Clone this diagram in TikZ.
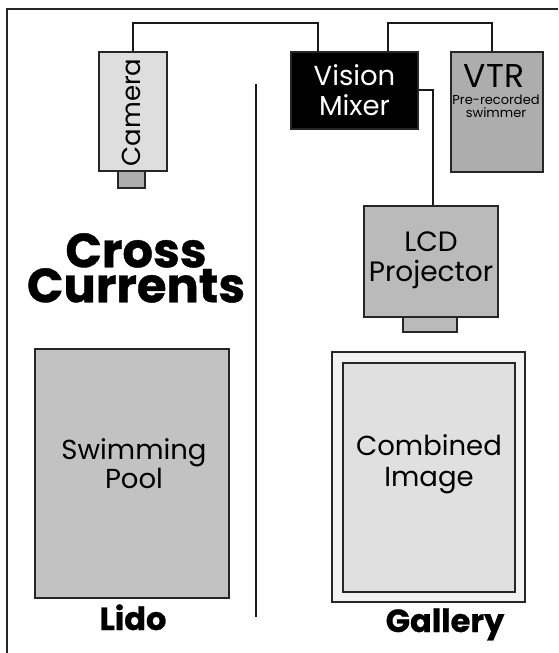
\documentclass[tikz,border=0pt]{standalone}
\usepackage{fontspec}
\setmainfont{Poppins}
\newfontfamily\heavyfont[BoldFeatures={FakeBold=0.8}]{Poppins}
\begin{document}
\begin{tikzpicture}[x=1pt,y=-1pt,
  wire/.style={line width=2.6pt,color=black!90},
  boxbase/.style={draw=black!85,line width=1.3pt,inner sep=0pt,align=center},
  lightbox/.style={boxbase,fill=black!13},
  midbox/.style={boxbase,fill=black!27},
  darkbox/.style={boxbase,fill=black!32},
  mixbox/.style={boxbase,fill=black,text=white},
  poolbox/.style={boxbase,line width=2.6pt,fill=black!24},
  galout/.style={boxbase,line width=2.4pt,fill=black!5},
  galin/.style={boxbase,line width=1.3pt,fill=black!12},
  lbl/.style={font=\fontsize{27}{27}\selectfont,align=center,inner sep=0pt},
  small/.style={font=\fontsize{13}{13}\selectfont,inner sep=0pt,anchor=base},
  title/.style={font=\heavyfont\bfseries\fontsize{48}{35}\selectfont,align=center,inner sep=0pt},
  place/.style={font=\heavyfont\bfseries\fontsize{32}{32}\selectfont,inner sep=0pt}]
\useasboundingbox (0,0) rectangle (558,653);
\fill[white] (0,0) rectangle (558,653);
% frame
\coordinate (f1) at (558,9);
\coordinate (f2) at (7,9);
\coordinate (f3) at (7,653);
\draw[line width=1.6pt,black!85] (f1) -- (f2) -- (f3);
% divider
\coordinate (d1) at (256,84);
\coordinate (d2) at (256,617);
\draw[line width=2.2pt,black!90] (d1) -- (d2);
% camera
\node[lightbox,minimum width=68pt,minimum height=119pt] (cam) at (133,111.5) {};
\node[darkbox,minimum width=27pt,minimum height=17pt] (camlens) at (131.5,179.5) {};
\node[lbl,font=\fontsize{26}{26}\selectfont,rotate=90] (camt) at (131,112.5) {Camera};
% mixer
\node[mixbox,minimum width=127pt,minimum height=77pt,font=\fontsize{27.5}{30}\selectfont] (mix) at (354.5,90.5) {Vision\\Mixer};
% VTR
\node[darkbox,minimum width=92pt,minimum height=120pt] (vtr) at (497,112) {};
\node[lbl,font=\fontsize{33}{33}\selectfont,anchor=base] (vtrt) at (494,87) {VTR};
\node[small] (vtrs1) at (496,104.5) {Pre-recorded};
\node[small] (vtrs2) at (496,117.5) {swimmer};
% LCD projector
\node[midbox,minimum width=134pt,minimum height=111pt] (lcd) at (431,261.5) {};
\node[lbl,font=\fontsize{28}{30}\selectfont] (lcdt) at (431,260) {LCD\\Projector};
\node[midbox,minimum width=54pt,minimum height=15pt] (lcdlens) at (430,324.5) {};
% wires
\coordinate (w1) at (318,23);
\coordinate (w2a) at (388,23);
\coordinate (w2b) at (492,23);
\coordinate (w3) at (433,90);
\draw[wire] (cam.north) |- (w1) -- (w1 |- mix.north);
\draw[wire] (w2a |- mix.north) -- (w2a) -- (w2b) -- (w2b |- vtr.north);
\draw[wire] (mix.east |- w3) -- (w3) -- (w3 |- lcd.north);
% title
\node[title,anchor=north] (cc) at (136,233) {Cross\\Currents};
% pool
\node[poolbox,minimum width=194pt,minimum height=249pt] (pool) at (132,473.5) {};
\node[lbl,font=\fontsize{27.5}{27}\selectfont] (poolt) at (134,464) {Swimming\\Pool};
% gallery
\node[galout,minimum width=193pt,minimum height=250pt] (galo) at (428.5,477) {};
\node[galin,minimum width=172pt,minimum height=229pt] (gali) at (429,477.5) {};
\node[lbl,font=\fontsize{27.5}{31}\selectfont] (galt) at (429,464) {Combined\\Image};
% place labels
\node[place,anchor=base] (lido) at (133,630) {Lido};
\node[place,anchor=base] (gal) at (445,632) {Gallery};
\end{tikzpicture}
\end{document}
